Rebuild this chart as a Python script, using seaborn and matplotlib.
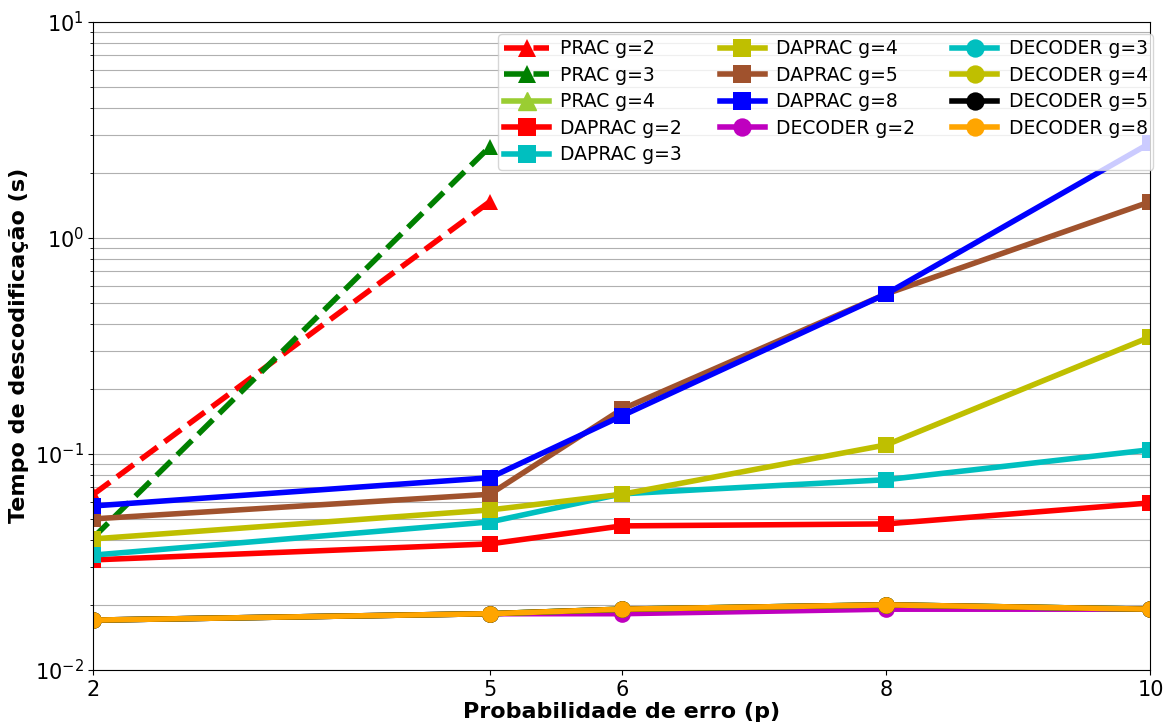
import numpy as np
import pandas as pd
import seaborn as sns
import matplotlib.pyplot as plt

# eixo x: probabilidade de erro
p_prac = [2, 5]
p = [2, 5, 6, 8, 10]

prac_g2 = [0.065, 1.47]
prac_g3 = [0.041, 2.64]
prac_g4 = []  # sem pontos visíveis

daprac_g2 = [0.0323, 0.0383, 0.0464, 0.0474, 0.0593]
daprac_g3 = [0.0340, 0.0484, 0.0653, 0.0759, 0.1045]
daprac_g4 = [0.0404, 0.0550, 0.0650, 0.1100, 0.348]
daprac_g5 = [0.0500, 0.0650, 0.161, 0.550, 1.47]
daprac_g8 = [0.0574, 0.0775, 0.150, 0.550, 2.75]

decoder_g2 = [0.0170, 0.0182, 0.0182, 0.0191, 0.0191]
decoder_g3 = [0.0170, 0.0182, 0.0191, 0.0200, 0.0191]
decoder_g4 = [0.0170, 0.0182, 0.0191, 0.0200, 0.0191]
decoder_g5 = [0.0170, 0.0182, 0.0191, 0.0200, 0.0191]
decoder_g8 = [0.0170, 0.0182, 0.0191, 0.0200, 0.0191]

series = [
    ('PRAC g=2', p_prac, prac_g2, 'red', '^', '--'),
    ('PRAC g=3', p_prac, prac_g3, 'green', '^', '--'),
    ('PRAC g=4', [], prac_g4, 'yellowgreen', '^', '-'),
    ('DAPRAC g=2', p, daprac_g2, 'red', 's', '-'),
    ('DAPRAC g=3', p, daprac_g3, 'c', 's', '-'),
    ('DAPRAC g=4', p, daprac_g4, 'y', 's', '-'),
    ('DAPRAC g=5', p, daprac_g5, 'sienna', 's', '-'),
    ('DAPRAC g=8', p, daprac_g8, 'blue', 's', '-'),
    ('DECODER g=2', p, decoder_g2, 'm', 'o', '-'),
    ('DECODER g=3', p, decoder_g3, 'c', 'o', '-'),
    ('DECODER g=4', p, decoder_g4, 'y', 'o', '-'),
    ('DECODER g=5', p, decoder_g5, 'black', 'o', '-'),
    ('DECODER g=8', p, decoder_g8, 'orange', 'o', '-'),
]

fig, ax = plt.subplots(figsize=(11.68, 7.25), dpi=100)
fig.subplots_adjust(left=0.08, right=0.985, top=0.97, bottom=0.076)

for label, xs, ys, cor, mk, ls in series:
    if len(ys) == 0:
        ax.plot([], [], color=cor, marker=mk, ls=ls, lw=4, ms=12, label=label)
        continue
    kw = dict(dashes=(4.5, 2)) if ls == '--' else {}
    sns.lineplot(x=xs, y=ys, ax=ax, color=cor, marker=mk, linestyle=ls,
                 linewidth=4, markersize=12, markeredgewidth=0, label=label, **kw)

ax.set_yscale('log')
ax.set_ylim(1e-2, 1e1)
ax.set_xlim(2, 10)
ax.set_xticks(p)
ax.set_xticklabels([str(v) for v in p])
ax.grid(True, which='both', axis='y', color='#b0b0b0', lw=0.8)
ax.set_axisbelow(True)
ax.tick_params(labelsize=15)
ax.set_xlabel('Probabilidade de erro (p)', fontsize=16, fontweight='bold', labelpad=2)
ax.set_ylabel('Tempo de descodificação (s)', fontsize=16, fontweight='bold')
ax.legend(ncol=3, loc='upper right', bbox_to_anchor=(1.008, 0.99), fontsize=13.5,
          handlelength=2.4, handletextpad=0.6, columnspacing=2.0,
          labelspacing=0.4, borderaxespad=0.3, borderpad=0.3, markerscale=1.1)

plt.savefig('out.png')
